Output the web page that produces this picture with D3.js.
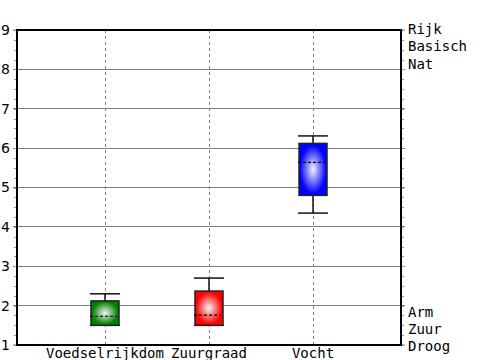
<!DOCTYPE html>
<html><head><meta charset="utf-8">
<script src="https://cdn.jsdelivr.net/npm/d3@7"></script>
<style>body{margin:0;background:#fff}svg{display:block}</style>
</head><body>
<svg id="c" width="500" height="360"></svg>
<script>
const categories = ["Voedselrijkdom", "Zuurgraad", "Vocht"];
const whiskerLow  = [1.5, 1.5, 4.35];
const boxLow      = [1.5, 1.5, 4.8];
const medians     = [1.73, 1.76, 5.64];
const boxHigh     = [2.12, 2.37, 6.12];
const whiskerHigh = [2.3, 2.7, 6.31];
const colors      = ["#008000", "#ff0000", "#0000ff"];
const yTicks      = [1, 2, 3, 4, 5, 6, 7, 8, 9];
const rightTopLabels = ["Rijk", "Basisch", "Nat"];
const rightBottomLabels = ["Arm", "Zuur", "Droog"];

const svg = d3.select("#c");
const L = 17, R = 401, T = 30, B = 345;
const y = d3.scaleLinear().domain([1, 9]).range([B, T]);
const x = d3.scalePoint().domain(categories).range([L, R]).padding(0.846);

// gradients
const defs = svg.append("defs");
colors.forEach((c, i) => {
  const g = defs.append("radialGradient").attr("id", "g" + i)
    .attr("cx", "50%").attr("cy", "50%").attr("r", "55%");
  g.append("stop").attr("offset", "0%").attr("stop-color", "#f4f4f4");
  g.append("stop").attr("offset", "85%").attr("stop-color", c);
  g.append("stop").attr("offset", "100%").attr("stop-color", c);
});

// grid lines
svg.append("g").selectAll("line").data(yTicks.slice(1, -1)).join("line")
  .attr("x1", L - 4).attr("x2", R + 4)
  .attr("y1", d => y(d)).attr("y2", d => y(d))
  .attr("stroke", "#808080").attr("stroke-width", 1).attr("shape-rendering", "crispEdges");

// vertical dashed lines
svg.append("g").selectAll("line").data(categories).join("line")
  .attr("x1", d => Math.round(x(d)) + 0.5).attr("x2", d => Math.round(x(d)) + 0.5)
  .attr("y1", T).attr("y2", B)
  .attr("stroke", "#808080").attr("stroke-dasharray", "3,3");

// minor ticks
const minor = d3.range(1, 9.001, 0.25);
svg.append("g").selectAll("line").data(minor).join("line")
  .attr("x1", L - 3).attr("x2", L - 1)
  .attr("y1", d => Math.round(y(d)) + 0.5).attr("y2", d => Math.round(y(d)) + 0.5)
  .attr("stroke", "#999").attr("stroke-width", 1);
svg.append("g").selectAll("line").data(minor).join("line")
  .attr("x1", R + 1).attr("x2", R + 3)
  .attr("y1", d => Math.round(y(d)) + 0.5).attr("y2", d => Math.round(y(d)) + 0.5)
  .attr("stroke", "#999").attr("stroke-width", 1);
// major ticks at ends
svg.append("g").selectAll("line").data([1, 9]).join("line")
  .attr("x1", L - 4).attr("x2", R + 4)
  .attr("y1", d => y(d)).attr("y2", d => y(d))
  .attr("stroke", "#808080").attr("stroke-width", 1);

// left axis labels
svg.append("g").selectAll("text").data(yTicks).join("text")
  .attr("x", 10).attr("y", d => y(d)).attr("dy", "0.35em")
  .attr("text-anchor", "end")
  .attr("font-family", "DejaVu Sans, Verdana, sans-serif").attr("font-size", 14)
  .text(d => d);

// boxes
const bw = 28, cw = 30;
const grp = svg.append("g").selectAll("g").data(categories).join("g");
grp.append("line")
  .attr("x1", d => x(d)).attr("x2", d => x(d))
  .attr("y1", (d, i) => y(whiskerHigh[i])).attr("y2", (d, i) => y(boxHigh[i]))
  .attr("stroke", "#111").attr("stroke-width", 1.5);
grp.append("line")
  .attr("x1", d => x(d)).attr("x2", d => x(d))
  .attr("y1", (d, i) => y(whiskerLow[i])).attr("y2", (d, i) => y(boxLow[i]))
  .attr("stroke", "#111").attr("stroke-width", 1.5);
grp.append("line")
  .attr("x1", d => x(d) - cw / 2).attr("x2", d => x(d) + cw / 2)
  .attr("y1", (d, i) => y(whiskerHigh[i])).attr("y2", (d, i) => y(whiskerHigh[i]))
  .attr("stroke", "#111").attr("stroke-width", 1.5);
grp.append("line")
  .attr("x1", d => x(d) - cw / 2).attr("x2", d => x(d) + cw / 2)
  .attr("y1", (d, i) => y(whiskerLow[i])).attr("y2", (d, i) => y(whiskerLow[i]))
  .attr("stroke", "#111").attr("stroke-width", 1.5);
grp.append("rect")
  .attr("x", d => x(d) - bw / 2).attr("width", bw)
  .attr("y", (d, i) => y(boxHigh[i]))
  .attr("height", (d, i) => y(boxLow[i]) - y(boxHigh[i]))
  .attr("fill", (d, i) => `url(#g${i})`)
  .attr("stroke", "#222").attr("stroke-width", 1.5);
grp.append("line")
  .attr("x1", d => x(d) - 15).attr("x2", d => x(d) + 12)
  .attr("y1", (d, i) => y(medians[i])).attr("y2", (d, i) => y(medians[i]))
  .attr("stroke", "#000").attr("stroke-width", 1.2).attr("stroke-dasharray", "3,2");

// frame
svg.append("rect").attr("x", L).attr("y", T).attr("width", R - L).attr("height", B - T)
  .attr("fill", "none").attr("stroke", "#000").attr("stroke-width", 2);

// category labels
svg.append("g").selectAll("text").data(categories).join("text")
  .attr("x", d => x(d)).attr("y", 358).attr("text-anchor", "middle")
  .attr("font-family", "DejaVu Sans Mono, monospace").attr("font-size", 14)
  .text(d => d);

// right labels
const mono = "DejaVu Sans Mono, monospace";
svg.append("g").selectAll("text").data(rightTopLabels).join("text")
  .attr("x", 408).attr("y", (d, i) => 29 + i * 17.5).attr("dy", "0.35em")
  .attr("font-family", mono).attr("font-size", 14).text(d => d);
svg.append("g").selectAll("text").data(rightBottomLabels).join("text")
  .attr("x", 408).attr("y", (d, i) => 312 + i * 17.2).attr("dy", "0.35em")
  .attr("font-family", mono).attr("font-size", 14).text(d => d);
</script>
</body></html>
